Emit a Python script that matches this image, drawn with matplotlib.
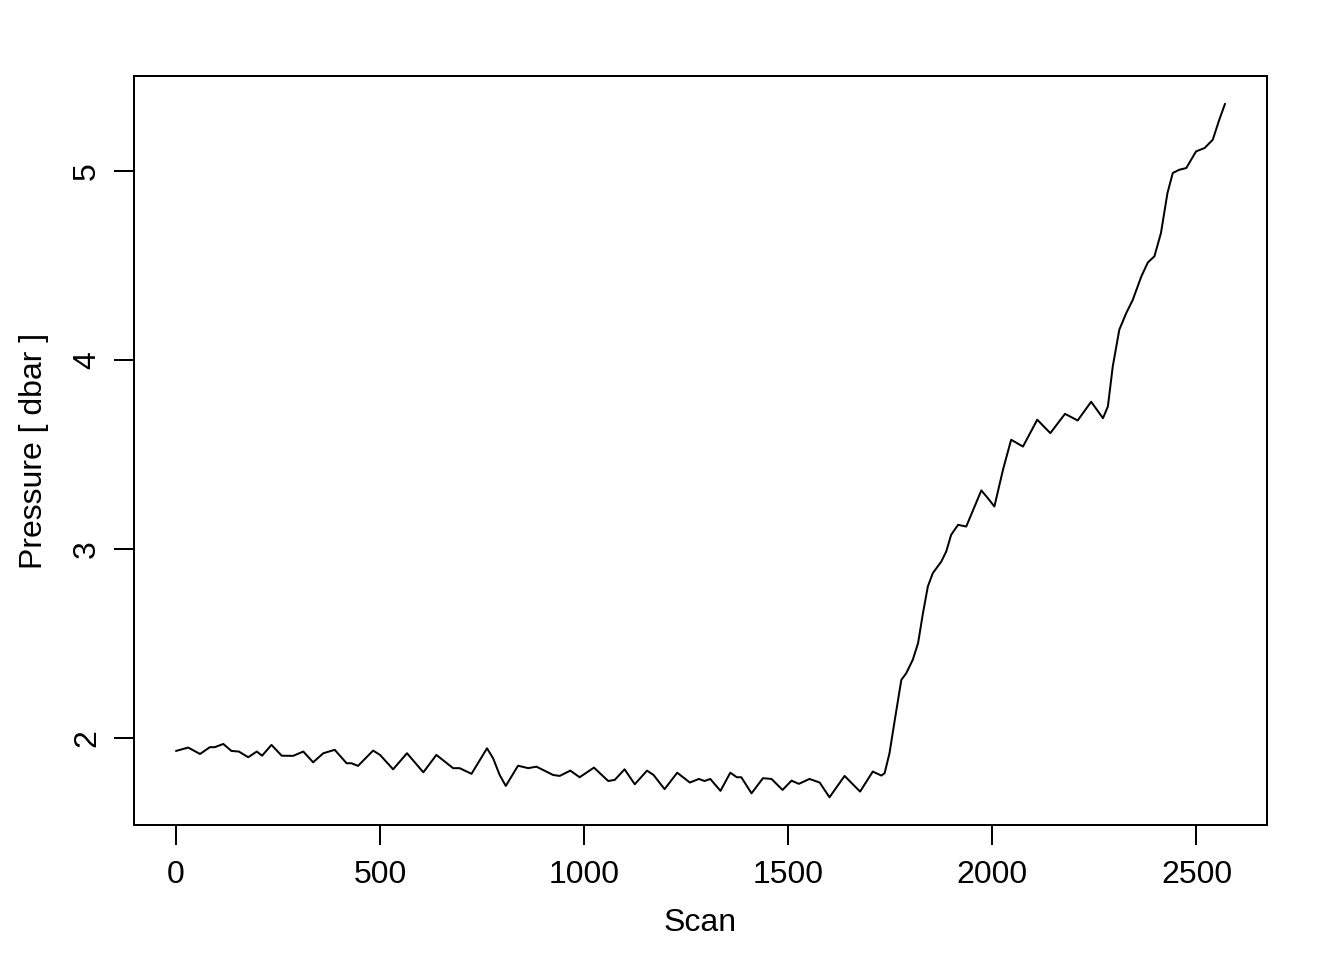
import matplotlib
matplotlib.use("Agg")
import matplotlib.pyplot as plt

plt.rcParams['font.family'] = ['Liberation Sans', 'DejaVu Sans']

# scan number / pressure
scan = [0, 30, 59, 83, 95, 116, 136, 154, 177, 198, 211, 234, 259, 287, 312, 336,
        361, 389, 418, 430, 446, 483, 500, 532, 566, 606, 638, 679, 695, 724, 762,
        777, 793, 808, 838, 863, 883, 924, 940, 966, 989, 1024, 1059, 1075, 1099,
        1124, 1154, 1170, 1197, 1228, 1259, 1281, 1295, 1309, 1334, 1358, 1374,
        1385, 1410, 1438, 1459, 1486, 1508, 1526, 1552, 1577, 1601, 1638, 1676,
        1707, 1728, 1736, 1748, 1761, 1777, 1789, 1805, 1818, 1830, 1842, 1854,
        1875, 1887, 1899, 1916, 1936, 1973, 1989, 2005, 2026, 2046, 2075, 2110,
        2142, 2178, 2209, 2242, 2271, 2283, 2295, 2311, 2328, 2344, 2365, 2381,
        2397, 2413, 2429, 2442, 2458, 2475, 2499, 2520, 2540, 2556, 2570]
pressure = [1.931, 1.949, 1.915, 1.951, 1.951, 1.968, 1.931, 1.928, 1.898, 1.928,
            1.906, 1.963, 1.906, 1.905, 1.928, 1.871, 1.919, 1.937, 1.866, 1.866,
            1.852, 1.933, 1.910, 1.834, 1.919, 1.818, 1.910, 1.840, 1.840, 1.810,
            1.945, 1.892, 1.804, 1.746, 1.853, 1.840, 1.848, 1.804, 1.799, 1.827,
            1.792, 1.843, 1.772, 1.778, 1.834, 1.755, 1.827, 1.804, 1.729, 1.816,
            1.764, 1.783, 1.772, 1.783, 1.720, 1.816, 1.792, 1.792, 1.707, 1.787,
            1.783, 1.725, 1.774, 1.757, 1.783, 1.764, 1.686, 1.799, 1.716, 1.822,
            1.801, 1.813, 1.919, 2.095, 2.307, 2.342, 2.413, 2.501, 2.660, 2.801,
            2.871, 2.933, 2.986, 3.074, 3.127, 3.118, 3.309, 3.268, 3.224, 3.418,
            3.577, 3.541, 3.683, 3.612, 3.714, 3.679, 3.778, 3.691, 3.753, 3.965,
            4.159, 4.247, 4.317, 4.441, 4.515, 4.547, 4.670, 4.882, 4.988, 5.005,
            5.014, 5.102, 5.120, 5.164, 5.270, 5.354]

xticks = [0, 500, 1000, 1500, 2000, 2500]
yticks = [2, 3, 4, 5]

fig = plt.figure(figsize=(7, 5), dpi=192)
ax = fig.add_axes([0.0997, 0.1406, 0.843, 0.7802])
ax.plot(scan, pressure, color="black", linewidth=0.75,
        solid_joinstyle="round", solid_capstyle="round")

# R style 4% padding
xr = max(scan) - min(scan)
yr = max(pressure) - min(pressure)
ax.set_xlim(min(scan) - 0.04 * xr, max(scan) + 0.04 * xr)
ax.set_ylim(min(pressure) - 0.04 * yr, max(pressure) + 0.04 * yr)

ax.set_xticks(xticks)
ax.set_yticks(yticks)
ax.set_xticklabels([str(t) for t in xticks])
ax.set_yticklabels([str(t) for t in yticks], rotation=90, va="center")
ax.tick_params(axis="x", length=7.5, width=0.75, labelsize=12, pad=5.5)
ax.tick_params(axis="y", length=7.5, width=0.75, labelsize=12, pad=4.5)
for s in ax.spines.values():
    s.set_linewidth(0.75)

ax.set_xlabel("Scan", fontsize=12, labelpad=7)
ax.set_ylabel("Pressure [ dbar ]", fontsize=12, labelpad=8.5)

fig.savefig("out.png", dpi=192)
